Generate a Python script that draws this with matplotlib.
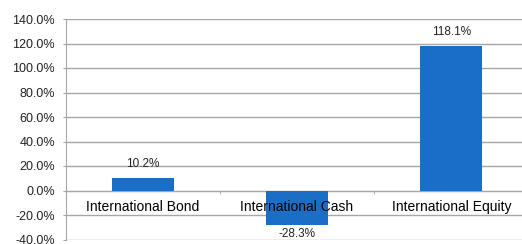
import matplotlib.pyplot as plt
from matplotlib.ticker import FuncFormatter, MultipleLocator

plt.rcParams['font.family'] = ['Liberation Sans', 'DejaVu Sans']

categories = ["International Bond", "International Cash", "International Equity"]
values = [10.2, -28.3, 118.1]
value_labels = ["10.2%", "-28.3%", "118.1%"]

bar_color = "#1a6ec6"
grid_color = "#a6a6a6"

fig = plt.figure(figsize=(5.22, 2.44), dpi=100)
ax = fig.add_axes([65.5 / 522, 4.5 / 244, 463 / 522, 220.5 / 244])

x = range(len(categories))
bars = ax.bar(x, values, width=0.4, color=bar_color, zorder=1)

for rect, v, lab in zip(bars, values, value_labels):
    if v >= 0:
        ax.annotate(lab, (rect.get_x() + rect.get_width() / 2, v),
                    xytext=(0, 10), textcoords="offset points",
                    ha="center", va="center", fontsize=8.5, color="#222222")
    else:
        ax.annotate(lab, (rect.get_x() + rect.get_width() / 2, v),
                    xytext=(0, -6.5), textcoords="offset points",
                    ha="center", va="center", fontsize=8.5, color="#222222")

ax.set_xlim(-0.5, 2.5)
ax.set_ylim(-40, 140)
ax.yaxis.set_major_locator(MultipleLocator(20))
ax.yaxis.set_major_formatter(FuncFormatter(lambda v, p: f"{v:.1f}%"))
ax.grid(axis="y", color=grid_color, linewidth=1)
ax.set_axisbelow(True)

ax.set_xticks(list(x))
ax.set_xticklabels(categories, fontsize=8.2, color="#222222")
ax.set_xticks([-0.5, 0.5, 1.5, 2.5], minor=True)
ax.tick_params(axis="x", which="major", length=0, pad=6.5)
ax.tick_params(axis="x", which="minor", length=2.5, color=grid_color, direction="out")
ax.tick_params(axis="y", length=2.5, color=grid_color, labelsize=9,
               labelcolor="#222222", pad=5)
ax.xaxis.set_zorder(3)

ax.spines["bottom"].set_position(("data", 0))
ax.spines["bottom"].set_color(grid_color)
ax.spines["bottom"].set_zorder(0.6)
ax.spines["left"].set_color(grid_color)
ax.spines["top"].set_visible(False)
ax.spines["right"].set_visible(False)

fig.savefig("out.png", dpi=100)
